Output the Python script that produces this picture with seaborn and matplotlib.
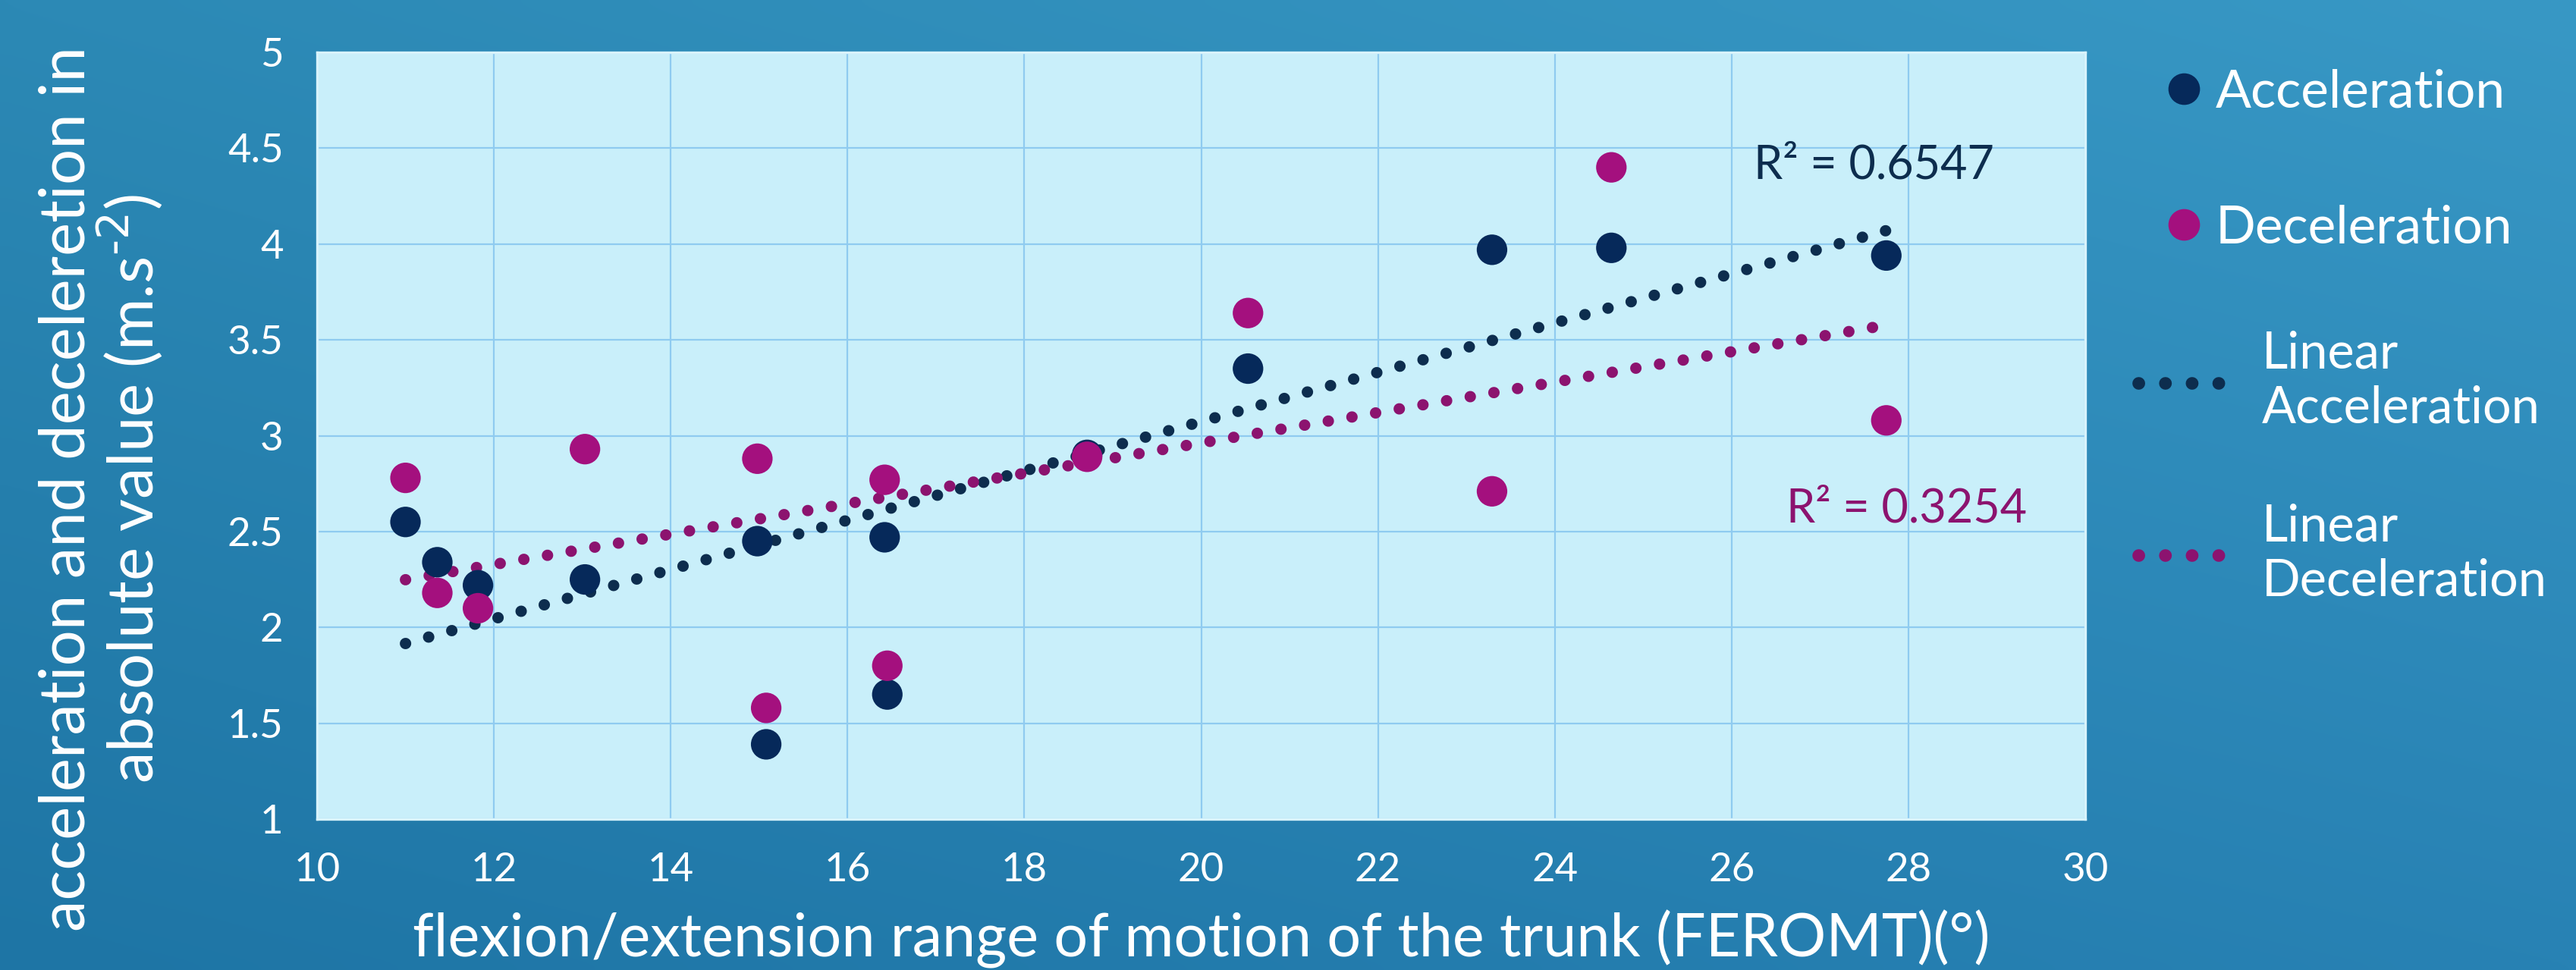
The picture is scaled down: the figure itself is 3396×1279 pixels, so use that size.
import matplotlib
matplotlib.use("Agg")
import matplotlib.pyplot as plt
from matplotlib.lines import Line2D
from matplotlib.ticker import FuncFormatter
import seaborn as sns
import pandas as pd
import numpy as np

# ---- data ----
feromt = [11.0, 11.36, 11.82, 13.03, 14.98, 15.08, 16.42, 16.45, 18.71, 20.53, 23.29, 24.64, 27.75]
acceleration = [2.55, 2.34, 2.22, 2.25, 2.45, 1.39, 2.47, 1.65, 2.90, 3.35, 3.97, 3.98, 3.94]
deceleration = [2.78, 2.18, 2.10, 2.93, 2.88, 1.58, 2.77, 1.80, 2.89, 3.64, 2.71, 4.40, 3.08]
series_names = ["Acceleration", "Deceleration"]
trend_names = ["Linear\nAcceleration", "Linear\nDeceleration"]
r2_labels = ["R\u00b2 = 0.6547", "R\u00b2 = 0.3254"]
x_ticks = [10, 12, 14, 16, 18, 20, 22, 24, 26, 28, 30]
y_ticks = [1, 1.5, 2, 2.5, 3, 3.5, 4, 4.5, 5]

ACC_COLOR = "#06295A"
DEC_COLOR = "#A4107E"
ACC_TREND = "#0D2D4E"
DEC_TREND = "#8C136F"
WHITE = "#FFFFFF"

df = pd.DataFrame({
    "feromt": feromt * 2,
    "value": acceleration + deceleration,
    "series": [series_names[0]] * len(feromt) + [series_names[1]] * len(feromt),
})

sns.set_style("white")
plt.rcParams["font.family"] = ["Lato", "DejaVu Sans"]

fig = plt.figure(figsize=(16.98, 6.395), dpi=200)

# gradient background
bg = fig.add_axes([0, 0, 1, 1], zorder=-10)
corners = np.array([[[44, 137, 181], [56, 152, 197]],
                    [[30, 117, 165], [40, 130, 180]]]) / 255.0
u = np.linspace(0, 1, 200)
v = np.linspace(0, 1, 80)[:, None, None]
top = corners[0, 0] + (corners[0, 1] - corners[0, 0]) * u[:, None]
bot = corners[1, 0] + (corners[1, 1] - corners[1, 0]) * u[:, None]
grad = top[None, :, :] * (1 - v) + bot[None, :, :] * v
bg.imshow(grad, aspect="auto", extent=[0, 1, 0, 1], interpolation="bicubic")
bg.set_axis_off()

ax = fig.add_axes([418 / 3396, 1 - 1080 / 1279, 2331 / 3396, 1011 / 1279])
ax.set_facecolor("#C9EFFA")

sns.scatterplot(data=df, x="feromt", y="value", hue="series",
                palette={series_names[0]: ACC_COLOR, series_names[1]: DEC_COLOR},
                s=210, linewidth=0, legend=False, ax=ax, zorder=4)

dot_style = (0, (0.01, 2.1))
for vals, col in [(acceleration, ACC_TREND), (deceleration, DEC_TREND)]:
    sns.regplot(x=np.array(feromt), y=np.array(vals), scatter=False, ci=None, ax=ax,
                line_kws=dict(color=col, lw=5.4, linestyle=dot_style,
                              dash_capstyle="round", zorder=3))

ax.text(26.25, 4.41, r2_labels[0], color=ACC_TREND, fontsize=22, va="center", ha="left")
ax.text(26.62, 2.62, r2_labels[1], color=DEC_TREND, fontsize=22, va="center", ha="left")

ax.set_xlim(10, 30)
ax.set_ylim(1, 5)
ax.set_xticks(x_ticks)
ax.set_yticks(y_ticks)
ax.yaxis.set_major_formatter(FuncFormatter(lambda v, p: f"{v:g}"))
ax.grid(True, color="#8FCBF0", lw=0.8)
ax.set_axisbelow(True)
for sp in ax.spines.values():
    sp.set_color("#D8F3FC")
    sp.set_linewidth(1.2)
ax.tick_params(axis="both", colors=WHITE, labelsize=19, length=0)
ax.tick_params(axis="x", pad=16)
ax.tick_params(axis="y", pad=16)

ax.set_xlabel("flexion/extension range of motion of the trunk (FEROMT)(\u00b0)",
              color=WHITE, fontsize=28.5, labelpad=10)
ax.set_ylabel("acceleration and deceleretion in\nabsolute value (m.s$^{\\text{-2}}$)",
              color=WHITE, fontsize=30, linespacing=1.0)
ax.yaxis.set_label_coords(-0.086, 0.431)

# legends: markers and trend lines placed separately
marker_handles = [
    Line2D([], [], marker="o", ls="", color=ACC_COLOR, markersize=14),
    Line2D([], [], marker="o", ls="", color=DEC_COLOR, markersize=14),
]
trend_handles = [
    Line2D([], [], color=ACC_TREND, lw=6, ls=dot_style, dash_capstyle="round"),
    Line2D([], [], color=DEC_TREND, lw=6, ls=dot_style, dash_capstyle="round"),
]
leg1 = ax.legend(marker_handles, series_names, loc="upper left",
                 bbox_to_anchor=(2789 / 3396, 1 - 28 / 1279), bbox_transform=fig.transFigure,
                 frameon=False, fontsize=25, labelcolor=WHITE, labelspacing=1.67,
                 handlelength=0.8, handletextpad=0.2)
ax.add_artist(leg1)
ax.legend(trend_handles, trend_names, loc="upper left",
          bbox_to_anchor=(2759 / 3396, 1 - 376 / 1279), bbox_transform=fig.transFigure,
          frameon=False, fontsize=24, labelcolor=WHITE, labelspacing=1.4,
          handlelength=1.72, handletextpad=0.72)

fig.savefig("out.png", dpi=200)
